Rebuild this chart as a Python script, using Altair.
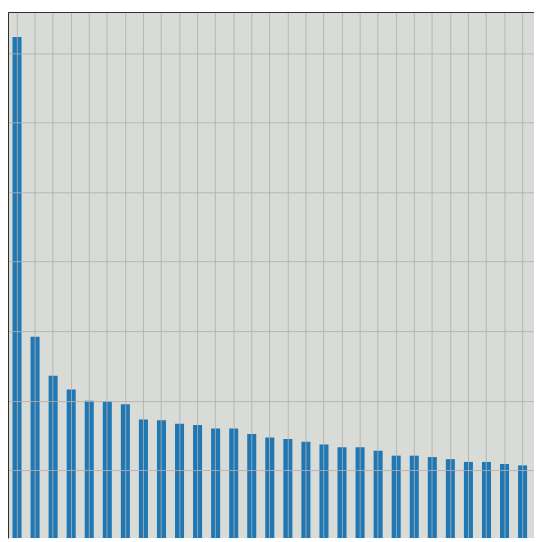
import altair as alt
import pandas as pd

categories = ["1", "2", "3", "4", "5", "6", "7", "8", "9", "10",
              "11", "12", "13", "14", "15", "16", "17", "18", "19", "20",
              "21", "22", "23", "24", "25", "26", "27", "28", "29"]
values = [723, 292, 236, 216, 200, 199, 195, 173, 172, 167,
          165, 160, 160, 152, 147, 145, 141, 137, 133, 133,
          128, 121, 121, 119, 116, 112, 112, 109, 107]
y_ticks = [100, 200, 300, 400, 500, 600, 700]
y_domain = [2.6, 759]

df = pd.DataFrame({"category": categories, "value": values})

grid_style = dict(
    title="",
    labels=False,
    ticks=False,
    domain=True,
    domainColor="#2b2b2b",
    domainWidth=1,
    grid=True,
    gridColor="#b0b0b0",
    gridOpacity=0.85,
    gridWidth=1,
    zindex=1,
)

chart = (
    alt.Chart(df)
    .mark_bar(color="#1f77b4", clip=True)
    .encode(
        x=alt.X(
            "category:N",
            sort=None,
            scale=alt.Scale(paddingInner=0.5, paddingOuter=0.316, align=0.395),
            axis=alt.Axis(orient="top", bandPosition=0.5, **grid_style),
        ),
        y=alt.Y(
            "value:Q",
            scale=alt.Scale(domain=y_domain, nice=False, zero=False),
            axis=alt.Axis(orient="left", values=y_ticks, **grid_style),
        ),
    )
    .properties(
        width=534,
        height=534,
        autosize=alt.AutoSizeParams(type="none"),
        padding=0,
        background="white",
    )
    .configure_view(fill="#d9dcd6", strokeWidth=0)
)

chart.save("out.html", embed_options={"renderer": "svg", "actions": False})
